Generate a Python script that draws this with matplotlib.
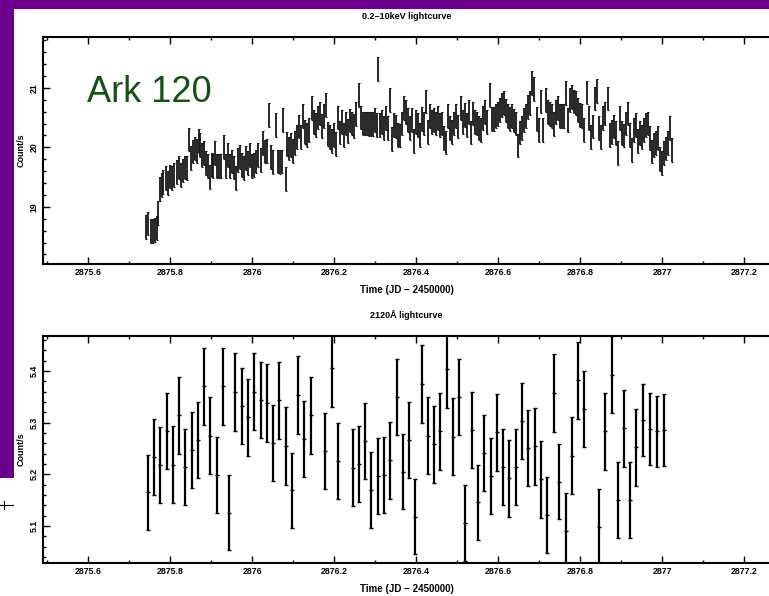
import matplotlib
matplotlib.use('Agg')
import matplotlib.pyplot as plt
from matplotlib.ticker import MultipleLocator, FormatStrFormatter
from matplotlib.patches import Rectangle
from matplotlib.lines import Line2D

plt.rcParams['font.family'] = ['Liberation Sans', 'DejaVu Sans']

# 0.2-10 keV light curve (JD - 2450000, count/s)
xr_time = [2875.7407, 2875.7464, 2875.7521, 2875.7570, 2875.7627, 2875.7667, 2875.7708, 2875.7749,
           2875.7789, 2875.7830, 2875.7887, 2875.7936, 2875.7993, 2875.8033, 2875.8090, 2875.8155,
           2875.8204, 2875.8253, 2875.8302, 2875.8358, 2875.8399, 2875.8448, 2875.8497, 2875.8545,
           2875.8594, 2875.8643, 2875.8692, 2875.8732, 2875.8773, 2875.8822, 2875.8871, 2875.8919,
           2875.8968, 2875.9009, 2875.9050, 2875.9098, 2875.9147, 2875.9196, 2875.9245, 2875.9310,
           2875.9358, 2875.9407, 2875.9456, 2875.9505, 2875.9554, 2875.9602, 2875.9651, 2875.9700,
           2875.9749, 2875.9798, 2875.9846, 2875.9895, 2875.9944, 2875.9993, 2876.0041, 2876.0090,
           2876.0147, 2876.0204, 2876.0253, 2876.0302, 2876.0350, 2876.0415, 2876.0464, 2876.0513,
           2876.0578, 2876.0627, 2876.0675, 2876.0716, 2876.0757, 2876.0814, 2876.0854, 2876.0903,
           2876.0952, 2876.1001, 2876.1050, 2876.1098, 2876.1147, 2876.1196, 2876.1245, 2876.1293,
           2876.1342, 2876.1391, 2876.1456, 2876.1505, 2876.1554, 2876.1602, 2876.1651, 2876.1700,
           2876.1749, 2876.1797, 2876.1854, 2876.1895, 2876.1944, 2876.1993, 2876.2041, 2876.2090,
           2876.2139, 2876.2188, 2876.2236, 2876.2285, 2876.2334, 2876.2383, 2876.2432, 2876.2480,
           2876.2529, 2876.2594, 2876.2643, 2876.2692, 2876.2741, 2876.2789, 2876.2838, 2876.2887,
           2876.2936, 2876.2984, 2876.3033, 2876.3066, 2876.3115, 2876.3163, 2876.3212, 2876.3261,
           2876.3310, 2876.3358, 2876.3407, 2876.3456, 2876.3505, 2876.3554, 2876.3602, 2876.3651,
           2876.3700, 2876.3749, 2876.3797, 2876.3846, 2876.3895, 2876.3944, 2876.3993, 2876.4041,
           2876.4090, 2876.4139, 2876.4188, 2876.4236, 2876.4285, 2876.4334, 2876.4383, 2876.4432,
           2876.4480, 2876.4529, 2876.4578, 2876.4627, 2876.4675, 2876.4724, 2876.4773, 2876.4822,
           2876.4871, 2876.4919, 2876.4968, 2876.5017, 2876.5082, 2876.5131, 2876.5180, 2876.5228,
           2876.5277, 2876.5326, 2876.5375, 2876.5424, 2876.5472, 2876.5521, 2876.5570, 2876.5619,
           2876.5667, 2876.5716, 2876.5798, 2876.5846, 2876.5895, 2876.5944, 2876.5993, 2876.6041,
           2876.6090, 2876.6139, 2876.6188, 2876.6237, 2876.6285, 2876.6334, 2876.6383, 2876.6432,
           2876.6480, 2876.6529, 2876.6578, 2876.6627, 2876.6676, 2876.6724, 2876.6773, 2876.6830,
           2876.6879, 2876.6936, 2876.6984, 2876.7050, 2876.7098, 2876.7163, 2876.7212, 2876.7261,
           2876.7310, 2876.7358, 2876.7407, 2876.7456, 2876.7505, 2876.7554, 2876.7602, 2876.7651,
           2876.7700, 2876.7749, 2876.7797, 2876.7846, 2876.7895, 2876.7944, 2876.7993, 2876.8041,
           2876.8090, 2876.8155, 2876.8204, 2876.8253, 2876.8302, 2876.8350, 2876.8399, 2876.8464,
           2876.8513, 2876.8562, 2876.8611, 2876.8667, 2876.8724, 2876.8773, 2876.8822, 2876.8871,
           2876.8919, 2876.8968, 2876.9017, 2876.9066, 2876.9115, 2876.9163, 2876.9212, 2876.9261,
           2876.9310, 2876.9358, 2876.9407, 2876.9456, 2876.9505, 2876.9554, 2876.9602, 2876.9651,
           2876.9700, 2876.9749, 2876.9798, 2876.9846, 2876.9895, 2876.9944, 2876.9993, 2877.0041,
           2877.0090, 2877.0139, 2877.0188, 2877.0237]
xr_rate = [18.66, 18.72, 18.60, 18.60, 18.61, 18.64, 18.89, 19.30,
           19.36, 19.42, 19.48, 19.40, 19.51, 19.48, 19.53, 19.59,
           19.66, 19.53, 19.61, 19.66, 19.65, 20.13, 19.82, 19.93,
           19.98, 19.94, 20.10, 20.04, 19.87, 19.90, 19.73, 19.68,
           19.50, 19.70, 19.68, 19.90, 19.68, 19.68, 19.68, 20.01,
           19.68, 19.87, 19.68, 19.76, 19.66, 19.48, 19.79, 19.84,
           19.70, 19.65, 19.82, 19.73, 19.87, 19.68, 19.70, 19.76,
           19.87, 19.79, 20.07, 19.93, 19.94, 20.54, 19.84, 19.75,
           20.38, 19.76, 19.75, 19.76, 20.46, 19.47, 20.06, 19.98,
           20.04, 19.94, 20.07, 20.18, 20.35, 20.18, 20.52, 20.26,
           20.21, 20.29, 20.66, 20.42, 20.38, 20.50, 20.57, 20.36,
           20.52, 20.71, 20.22, 20.18, 20.10, 20.21, 20.06, 20.50,
           20.25, 20.43, 20.21, 20.40, 20.28, 20.45, 20.40, 20.36,
           20.56, 20.88, 20.50, 20.40, 20.40, 20.40, 20.39, 20.39,
           20.39, 20.46, 20.38, 21.32, 20.38, 20.43, 20.32, 20.49,
           20.32, 20.80, 20.14, 20.38, 20.35, 20.21, 20.20, 20.40,
           20.66, 20.60, 20.46, 20.32, 20.46, 20.10, 20.43, 20.38,
           20.21, 20.48, 20.40, 20.77, 20.26, 20.52, 20.43, 20.46,
           20.40, 20.49, 20.38, 20.40, 20.15, 20.08, 20.52, 20.32,
           20.26, 20.40, 20.52, 20.35, 20.66, 20.43, 20.54, 20.38,
           20.60, 20.25, 20.57, 20.43, 20.40, 20.32, 20.29, 20.49,
           20.60, 20.42, 20.88, 20.48, 20.48, 20.52, 20.56, 20.63,
           20.71, 20.74, 20.62, 20.52, 20.48, 20.52, 20.45, 20.40,
           20.03, 20.25, 20.32, 20.46, 20.52, 20.68, 20.74, 21.08,
           20.98, 20.48, 20.29, 20.77, 20.29, 20.80, 20.60, 20.56,
           20.52, 20.39, 20.60, 20.66, 20.52, 20.52, 20.53, 20.91,
           20.46, 20.80, 20.85, 20.77, 20.74, 20.63, 20.54, 20.52,
           20.29, 20.92, 20.49, 20.18, 20.35, 20.82, 20.94, 20.32,
           20.17, 20.49, 20.57, 20.82, 20.21, 20.26, 20.35, 20.24,
           19.90, 20.49, 20.24, 20.20, 20.40, 20.57, 20.21, 19.96,
           20.29, 20.38, 20.10, 20.24, 20.18, 20.29, 20.38, 20.40,
           20.15, 19.93, 20.04, 20.07, 20.15, 19.80, 19.73, 19.90,
           19.98, 20.07, 20.32, 19.96]
xr_err = 0.2

# 2120 A (OM) light curve
uv_time = [2875.745, 2875.760, 2875.776, 2875.791, 2875.806, 2875.822, 2875.837, 2875.852,
           2875.868, 2875.882, 2875.898, 2875.913, 2875.929, 2875.943, 2875.959, 2875.974,
           2875.990, 2876.005, 2876.020, 2876.035, 2876.050, 2876.066, 2876.081, 2876.097,
           2876.111, 2876.127, 2876.142, 2876.178, 2876.194, 2876.209, 2876.245, 2876.260,
           2876.276, 2876.290, 2876.306, 2876.321, 2876.337, 2876.352, 2876.367, 2876.382,
           2876.398, 2876.413, 2876.428, 2876.443, 2876.459, 2876.474, 2876.489, 2876.504,
           2876.520, 2876.535, 2876.550, 2876.566, 2876.581, 2876.596, 2876.611, 2876.627,
           2876.642, 2876.658, 2876.672, 2876.689, 2876.703, 2876.719, 2876.735, 2876.749,
           2876.764, 2876.779, 2876.794, 2876.810, 2876.846, 2876.861, 2876.877, 2876.892,
           2876.907, 2876.922, 2876.937, 2876.953, 2876.970, 2876.988, 2877.004]
uv_rate = [5.165, 5.234, 5.218, 5.284, 5.219, 5.314, 5.214, 5.247,
           5.266, 5.370, 5.275, 5.199, 5.370, 5.126, 5.359, 5.332,
           5.310, 5.360, 5.344, 5.338, 5.261, 5.343, 5.255, 5.169,
           5.354, 5.268, 5.314, 5.245, 5.405, 5.226, 5.213, 5.220,
           5.265, 5.170, 5.197, 5.199, 5.227, 5.350, 5.205, 5.266,
           5.118, 5.375, 5.275, 5.258, 5.283, 5.403, 5.273, 5.350,
           5.106, 5.286, 5.146, 5.241, 5.197, 5.281, 5.214, 5.192,
           5.214, 5.303, 5.251, 5.254, 5.190, 5.121, 5.357, 5.186,
           5.091, 5.236, 5.382, 5.326, 5.099, 5.283, 5.393, 5.150,
           5.289, 5.150, 5.252, 5.305, 5.288, 5.283, 5.286]
uv_err = [0.073, 0.074, 0.074, 0.074, 0.074, 0.074, 0.074, 0.074,
          0.074, 0.075, 0.074, 0.074, 0.075, 0.073, 0.075, 0.074,
          0.074, 0.075, 0.074, 0.075, 0.074, 0.074, 0.075, 0.073,
          0.075, 0.074, 0.074, 0.074, 0.075, 0.074, 0.074, 0.074,
          0.074, 0.073, 0.074, 0.074, 0.074, 0.074, 0.073, 0.074,
          0.073, 0.075, 0.074, 0.074, 0.075, 0.075, 0.074, 0.074,
          0.073, 0.074, 0.073, 0.074, 0.074, 0.074, 0.074, 0.074,
          0.074, 0.074, 0.073, 0.074, 0.074, 0.073, 0.075, 0.073,
          0.073, 0.074, 0.075, 0.074, 0.073, 0.074, 0.074, 0.073,
          0.074, 0.073, 0.074, 0.070, 0.069, 0.069, 0.069]

purple = '#6a008c'

fig = plt.figure(figsize=(7.69, 5.96), dpi=100)
W, H = 769.0, 596.0

# slide frame
fig.add_artist(Rectangle((0, 1 - 9 / H), 1, 9 / H, transform=fig.transFigure,
                         color=purple, lw=0, zorder=0))
fig.add_artist(Rectangle((0, 1 - 478 / H), 14 / W, 478 / H, transform=fig.transFigure,
                         color=purple, lw=0, zorder=0))
fig.add_artist(Line2D([0, 13 / W], [1 - 505 / H] * 2, transform=fig.transFigure,
                      color='black', lw=0.8))
fig.add_artist(Line2D([4 / W] * 2, [1 - 501 / H, 1 - 509 / H], transform=fig.transFigure,
                      color='black', lw=0.8))

ax1 = fig.add_axes([43 / W, 1 - 264 / H, 727 / W, 227 / H])
ax2 = fig.add_axes([43 / W, 1 - 563.3 / H, 727 / W, 227.3 / H])

ax1.errorbar(xr_time, xr_rate, yerr=xr_err, fmt='none', ecolor='#151515',
             elinewidth=1.3, capsize=1.0, capthick=0.8)
ax2.errorbar(uv_time, uv_rate, yerr=uv_err, fmt='_', color='black', ms=2.5,
             ecolor='black', elinewidth=1.6, capsize=1.3, capthick=1.0)

ax1.set_ylim(18.039, 21.854)
ax2.set_ylim(5.0278, 5.4677)
ax1.yaxis.set_major_locator(MultipleLocator(1))
ax1.yaxis.set_minor_locator(MultipleLocator(0.2))
ax2.yaxis.set_major_locator(MultipleLocator(0.1))
ax2.yaxis.set_minor_locator(MultipleLocator(0.02))

titles = ['0.2\u201310keV lightcurve', '2120\u00c5 lightcurve']
for ax, ttl in zip([ax1, ax2], titles):
    ax.set_xlim(2875.4895, 2877.2627)
    ax.xaxis.set_major_locator(MultipleLocator(0.2))
    ax.xaxis.set_minor_locator(MultipleLocator(0.1))
    ax.xaxis.set_major_formatter(FormatStrFormatter('%g'))
    ax.yaxis.set_major_formatter(FormatStrFormatter('%g'))
    ax.tick_params(which='both', direction='in', top=True, right=False, width=1.0,
                   labelsize=6.3)
    ax.tick_params(which='major', length=5)
    ax.tick_params(which='minor', length=2.5)
    ax.tick_params(axis='x', pad=3)
    ax.tick_params(axis='y', pad=3, labelrotation=90)
    for lab in ax.get_xticklabels() + ax.get_yticklabels():
        lab.set_fontweight('bold')
    for lab in ax.get_yticklabels():
        lab.set_va('center')
    for sp in ax.spines.values():
        sp.set_linewidth(1.5)
    ax.set_title(ttl, fontsize=6.5, fontweight='bold', pad=13)
    ax.set_xlabel('Time (JD \u2212 2450000)', fontsize=7, fontweight='bold', labelpad=5.5)
    ax.set_ylabel('Count/s', fontsize=6.5, fontweight='bold', labelpad=3)

fig.text(87 / W, 1 - 102 / H, 'Ark 120', fontsize=26, color='#135213',
         ha='left', va='baseline')

fig.savefig('out.png', dpi=100, facecolor='white')
